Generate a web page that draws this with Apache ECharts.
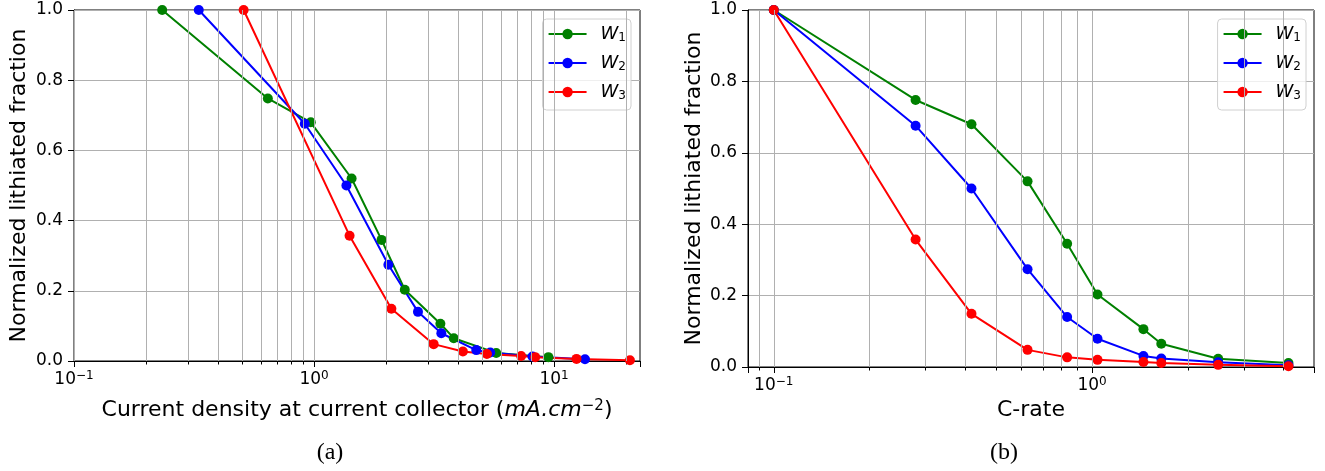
<!DOCTYPE html>
<html>
<head>
<meta charset="utf-8">
<script src="https://cdn.jsdelivr.net/npm/echarts@6/dist/echarts.min.js"></script>
<style>
html,body{margin:0;padding:0;background:#fff;}
#chart{width:1325px;height:471px;}
</style>
</head>
<body>
<div id="chart"></div>
<script>
// ---- data ----
const seriesNames = ['W1', 'W2', 'W3'];
const seriesColors = ['#008000', '#0000ff', '#ff0000'];
// (a) current density at current collector (mA.cm^-2)
const densityW1 = [0.233, 0.642, 0.969, 1.434, 1.911, 2.388, 3.36, 3.82, 5.74, 9.47];
const densityW2 = [0.331, 0.915, 1.364, 2.04, 2.71, 3.39, 4.74, 5.42, 8.13, 13.45];
const densityW3 = [0.509, 1.406, 2.10, 3.15, 4.17, 5.25, 7.29, 8.34, 12.4, 20.7];
// (b) C-rate
const cRate = [0.1, 0.279, 0.418, 0.627, 0.835, 1.04, 1.45, 1.65, 2.49, 4.14];
// normalized lithiated fraction
const fracW1 = [1.0, 0.748, 0.680, 0.520, 0.345, 0.203, 0.106, 0.065, 0.023, 0.011];
const fracW2 = [1.0, 0.676, 0.500, 0.274, 0.140, 0.079, 0.031, 0.024, 0.013, 0.005];
const fracW3 = [1.0, 0.357, 0.149, 0.048, 0.027, 0.020, 0.014, 0.011, 0.006, 0.002];
// axis ranges / ticks
const xRangeA = [0.1, 22.8];
const xRangeB = [0.083, 4.98];
const gridLinesA = [0.1,0.2,0.3,0.4,0.5,0.6,0.7,0.8,0.9,1,2,3,4,5,6,7,8,9,10,20];
const gridLinesB = [0.09,0.1,0.2,0.3,0.4,0.5,0.6,0.7,0.8,0.9,1,2,3,4];
const minorTicksA = [0.2,0.3,0.4,0.5,0.6,0.7,0.8,0.9,2,3,4,5,6,7,8,9,20];
const minorTicksB = [0.09,0.2,0.3,0.4,0.5,0.6,0.7,0.8,0.9,2,3,4];
const yLabel = 'Normalized lithiated fraction';
const xLabelA = '{n|Current density at current collector (}{i|mA.cm}{p|\u22122}{n|)}';
const xLabelB = 'C-rate';

const FONT = 'DejaVu Sans';
const GRIDC = '#b0b0b0';

function powLabel(v) {
  const e = Math.log10(v);
  const r = Math.round(e);
  if (Math.abs(e - r) > 1e-6) return '';
  return '{b|10}{s|' + (r < 0 ? '\u2212' + (-r) : r) + '}';
}
const powRich = {
  b: {fontSize: 17, fontFamily: FONT, color: '#000', lineHeight: 20},
  s: {fontSize: 12, fontFamily: FONT, color: '#000', lineHeight: 12, verticalAlign: 'top'}
};

function pairs(xs, ys) { return xs.map((x, i) => [x, ys[i]]); }

function majorX(grid, range, name, nameGap) {
  return {
    type: 'log', logBase: 10, gridIndex: grid, min: range[0], max: range[1],
    position: 'bottom',
    name: name, nameLocation: 'middle', nameGap: nameGap,
    nameTextStyle: {
      fontSize: 22, fontFamily: FONT, color: '#000',
      rich: {
        n: {fontSize: 22, fontFamily: FONT, color: '#000'},
        i: {fontSize: 22, fontFamily: FONT, fontStyle: 'italic', color: '#000'},
        p: {fontSize: 15, fontFamily: FONT, color: '#000', verticalAlign: 'top', lineHeight: 14}
      }
    },
    axisLine: {show: true, lineStyle: {color: '#000', width: 1}},
    axisTick: {show: true, length: 6, lineStyle: {color: '#000', width: 1}},
    axisLabel: {show: true, margin: 9, formatter: powLabel, rich: powRich, showMinLabel: true, showMaxLabel: true},
    splitLine: {show: false},
    minorTick: {show: false},
    minorSplitLine: {show: false}
  };
}
function minorX(grid, range, ticks) {
  return {
    type: 'log', logBase: 10, gridIndex: grid, min: range[0], max: range[1],
    position: 'bottom',
    axisLine: {show: false},
    axisTick: {show: true, length: 3.5, customValues: ticks, lineStyle: {color: '#000', width: 1}},
    axisLabel: {show: false},
    splitLine: {show: false}
  };
}
function yAx(grid, nameGap) {
  return {
    type: 'value', gridIndex: grid, min: 0, max: 1, interval: 0.2,
    name: yLabel, nameLocation: 'middle', nameGap: nameGap, nameRotate: 90,
    nameTextStyle: {fontSize: 22, fontFamily: FONT, color: '#000'},
    axisLine: {show: true, lineStyle: {color: '#000', width: 1}},
    axisTick: {show: true, length: 6, lineStyle: {color: '#000', width: 1}},
    axisLabel: {fontSize: 17, fontFamily: FONT, color: '#000', margin: 11, formatter: v => v.toFixed(1)},
    splitLine: {show: true, lineStyle: {color: GRIDC, width: 1}}
  };
}
function gridSeries(xi, yi, vals) {
  return {
    type: 'line', xAxisIndex: xi, yAxisIndex: yi, data: [], z: 1, silent: true,
    markLine: {
      silent: true, symbol: 'none', animation: false,
      label: {show: false},
      lineStyle: {color: GRIDC, width: 1, type: 'solid'},
      emphasis: {disabled: true},
      data: vals.map(v => ({xAxis: v}))
    }
  };
}
function dataSeries(name, color, xi, yi, xs, ys) {
  return {
    name: name, type: 'line', xAxisIndex: xi, yAxisIndex: yi, z: 3,
    data: pairs(xs, ys),
    symbol: 'circle', symbolSize: 10, showSymbol: true,
    lineStyle: {color: color, width: 2},
    itemStyle: {color: color, borderWidth: 0},
    animation: false
  };
}
function legendFor(right) {
  return {
    data: seriesNames, orient: 'vertical', right: right, top: 19,
    backgroundColor: 'rgba(255,255,255,0.8)', borderColor: '#d0d0d0', borderWidth: 1, borderRadius: 4,
    padding: [6, 5, 8, 5], itemGap: 10, itemWidth: 38, itemHeight: 13,
    selectedMode: false,
    formatter: n => '{w|W}{s|' + n.slice(1) + '}',
    textStyle: {
      padding: [0, 0, 0, 9],
      rich: {
        w: {fontSize: 18, fontFamily: FONT, fontStyle: 'italic', color: '#000', lineHeight: 20},
        s: {fontSize: 12, fontFamily: FONT, color: '#000', lineHeight: 10, verticalAlign: 'bottom'}
      }
    }
  };
}

const chart = echarts.init(document.getElementById('chart'), null, {renderer: 'canvas'});
chart.setOption({
  animation: false,
  backgroundColor: '#fff',
  grid: [
    {left: 74, top: 10, width: 566, height: 351, show: true, borderColor: '#000', borderWidth: 1, backgroundColor: 'transparent'},
    {left: 748, top: 10, width: 566, height: 357, show: true, borderColor: '#000', borderWidth: 1, backgroundColor: 'transparent'}
  ],
  xAxis: [
    majorX(0, xRangeA, xLabelA, 38),
    majorX(1, xRangeB, xLabelB, 31),
    minorX(0, xRangeA, minorTicksA),
    minorX(1, xRangeB, minorTicksB)
  ],
  yAxis: [yAx(0, 44), yAx(1, 43)],
  legend: [legendFor(1325 - 631), legendFor(1325 - 1306)],
  series: [
    gridSeries(0, 0, gridLinesA),
    gridSeries(1, 1, gridLinesB),
    dataSeries('W1', seriesColors[0], 0, 0, densityW1, fracW1),
    dataSeries('W2', seriesColors[1], 0, 0, densityW2, fracW2),
    dataSeries('W3', seriesColors[2], 0, 0, densityW3, fracW3),
    dataSeries('W1', seriesColors[0], 1, 1, cRate, fracW1),
    dataSeries('W2', seriesColors[1], 1, 1, cRate, fracW2),
    dataSeries('W3', seriesColors[2], 1, 1, cRate, fracW3)
  ],
  graphic: [
    {type: 'text', x: 330, y: 453, style: {text: '(a)', font: '24px "Liberation Serif"', fill: '#000', align: 'center', verticalAlign: 'middle'}},
    {type: 'text', x: 1004, y: 453, style: {text: '(b)', font: '24px "Liberation Serif"', fill: '#000', align: 'center', verticalAlign: 'middle'}}
  ]
});
</script>
</body>
</html>
